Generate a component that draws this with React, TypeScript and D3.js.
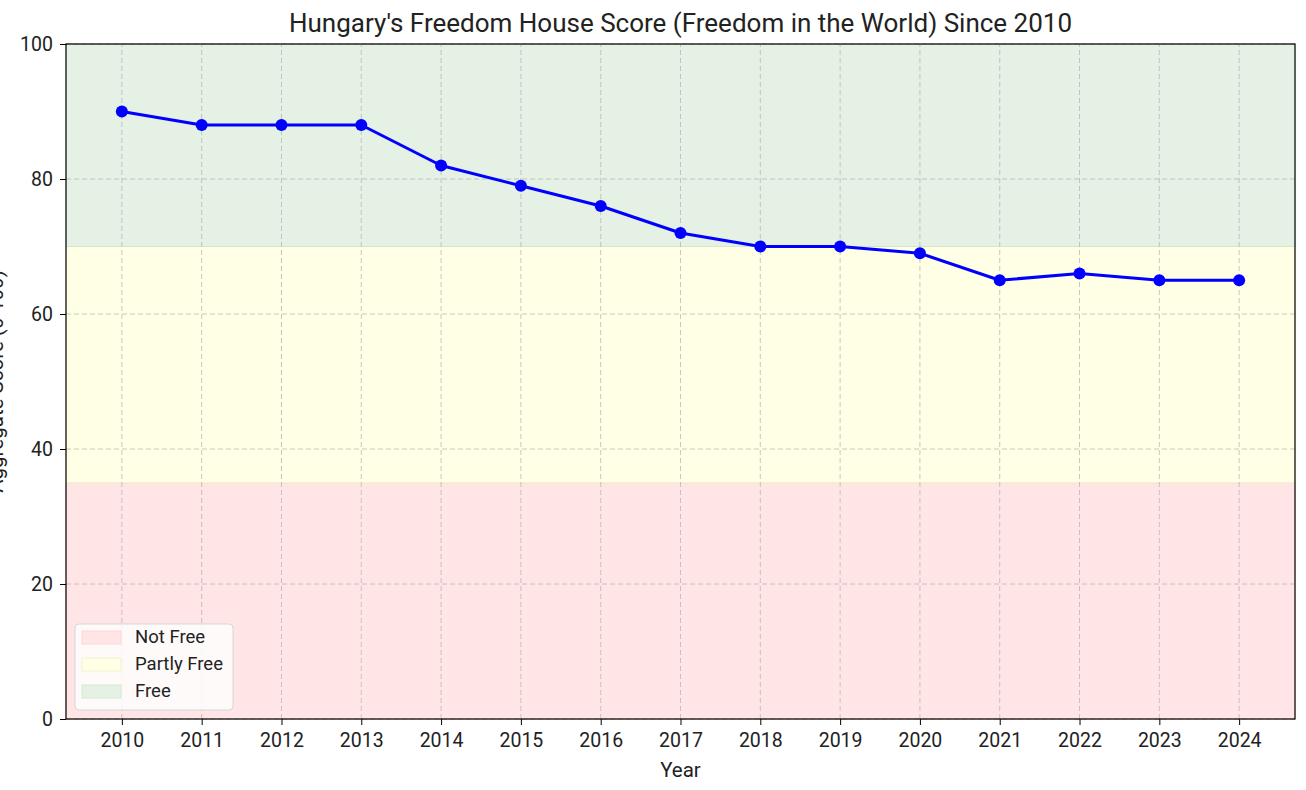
import React, { useEffect, useRef } from "react";
import * as d3 from "d3";

const years = [2010, 2011, 2012, 2013, 2014, 2015, 2016, 2017, 2018, 2019, 2020, 2021, 2022, 2023, 2024];
const scores = [90, 88, 88, 88, 82, 79, 76, 72, 70, 70, 69, 65, 66, 65, 65];
const yTicks = [0, 20, 40, 60, 80, 100];

const bandNames = ["Not Free", "Partly Free", "Free"];
const bandLow = [0, 35, 70];
const bandHigh = [35, 70, 100];
const bandColors = ["#ffe5e5", "#ffffe5", "#e4f1e4"];
const bandEdges = ["#fdd5d5", "#f2f2c8", "#d4e9cc"];

const FONT = "Roboto, 'Open Sans', sans-serif";

export default function App() {
  const ref = useRef<SVGSVGElement>(null);

  useEffect(() => {
    const W = 1306;
    const H = 790;
    const margin = { top: 44, right: 11, bottom: 71, left: 66 };

    const svg = d3.select(ref.current);
    svg.selectAll("*").remove();

    svg.append("rect").attr("width", W).attr("height", H).attr("fill", "white");

    const x = d3
      .scaleLinear()
      .domain([2010 - 0.7, 2024 + 0.7])
      .range([margin.left, W - margin.right]);
    const y = d3
      .scaleLinear()
      .domain([0, 100])
      .range([H - margin.bottom, margin.top]);

    // shaded status bands
    svg
      .append("g")
      .selectAll("rect")
      .data(bandNames)
      .join("rect")
      .attr("x", x.range()[0])
      .attr("width", x.range()[1] - x.range()[0])
      .attr("y", (_, i) => y(bandHigh[i]))
      .attr("height", (_, i) => y(bandLow[i]) - y(bandHigh[i]))
      .attr("fill", (_, i) => bandColors[i])
      .attr("stroke", (_, i) => bandEdges[i])
      .attr("stroke-width", 1);

    // grid
    const grid = svg.append("g").attr("stroke", "#b0b0b0").attr("stroke-opacity", 0.7).attr("stroke-dasharray", "5,3");
    grid
      .selectAll("line.v")
      .data(years)
      .join("line")
      .attr("class", "v")
      .attr("x1", (d) => x(d))
      .attr("x2", (d) => x(d))
      .attr("y1", y(0))
      .attr("y2", y(100));
    grid
      .selectAll("line.h")
      .data(yTicks)
      .join("line")
      .attr("class", "h")
      .attr("x1", x.range()[0])
      .attr("x2", x.range()[1])
      .attr("y1", (d) => y(d))
      .attr("y2", (d) => y(d));

    // line + markers
    const line = d3
      .line<number>()
      .x((_, i) => x(years[i]))
      .y((d) => y(d));
    svg
      .append("path")
      .datum(scores)
      .attr("d", line)
      .attr("fill", "none")
      .attr("stroke", "#0000ff")
      .attr("stroke-width", 3)
      .attr("stroke-linejoin", "round");
    svg
      .append("g")
      .selectAll("circle")
      .data(scores)
      .join("circle")
      .attr("cx", (_, i) => x(years[i]))
      .attr("cy", (d) => y(d))
      .attr("r", 6)
      .attr("fill", "#0000ff");

    // spines
    svg
      .append("rect")
      .attr("x", x.range()[0])
      .attr("y", y(100))
      .attr("width", x.range()[1] - x.range()[0])
      .attr("height", y(0) - y(100))
      .attr("fill", "none")
      .attr("stroke", "#000")
      .attr("stroke-width", 1.2);

    // axes
    const xAxis = svg
      .append("g")
      .attr("transform", `translate(0,${y(0)})`)
      .call(d3.axisBottom(x).tickValues(years).tickFormat(d3.format("d")).tickSize(6).tickPadding(8));
    xAxis.select(".domain").remove();
    xAxis.selectAll(".tick text").attr("font-size", 19.5).attr("font-family", FONT).attr("fill", "#222");

    const yAxis = svg
      .append("g")
      .attr("transform", `translate(${x.range()[0]},0)`)
      .call(d3.axisLeft(y).tickValues(yTicks).tickSize(6).tickPadding(7));
    yAxis.select(".domain").remove();
    yAxis.selectAll(".tick text").attr("font-size", 19.5).attr("font-family", FONT).attr("fill", "#222");

    // labels
    svg
      .append("text")
      .attr("x", (x.range()[0] + x.range()[1]) / 2)
      .attr("y", 32)
      .attr("text-anchor", "middle")
      .attr("font-size", 26)
      .attr("font-family", FONT)
      .attr("fill", "#222")
      .text("Hungary's Freedom House Score (Freedom in the World) Since 2010");
    svg
      .append("text")
      .attr("x", (x.range()[0] + x.range()[1]) / 2)
      .attr("y", 777)
      .attr("text-anchor", "middle")
      .attr("font-size", 20.5)
      .attr("font-family", FONT)
      .attr("fill", "#222")
      .text("Year");
    svg
      .append("text")
      .attr("transform", `translate(3,${(y(0) + y(100)) / 2}) rotate(-90)`)
      .attr("text-anchor", "middle")
      .attr("font-size", 20.5)
      .attr("font-family", FONT)
      .attr("fill", "#222")
      .text("Aggregate Score (0-100)");

    // legend
    const lg = svg.append("g").attr("transform", "translate(75,624)");
    lg.append("rect")
      .attr("width", 158)
      .attr("height", 86)
      .attr("rx", 4)
      .attr("fill", "white")
      .attr("fill-opacity", 0.8)
      .attr("stroke", "#d6d6d6");
    const items = lg
      .selectAll("g.item")
      .data(bandNames)
      .join("g")
      .attr("class", "item")
      .attr("transform", (_, i) => `translate(0,${13 + i * 27})`);
    items
      .append("rect")
      .attr("x", 7)
      .attr("y", -6)
      .attr("width", 39)
      .attr("height", 13)
      .attr("fill", (_, i) => bandColors[i])
      .attr("stroke", (_, i) => bandEdges[i]);
    items
      .append("text")
      .attr("x", 60)
      .attr("dy", "0.35em")
      .attr("font-size", 18.5)
      .attr("font-family", FONT)
      .attr("fill", "#222")
      .text((d) => d);
  }, []);

  return (
    <svg
      ref={ref}
      width={1306}
      height={790}
      style={{ position: "absolute", left: 0, top: 0, display: "block" }}
    />
  );
}
